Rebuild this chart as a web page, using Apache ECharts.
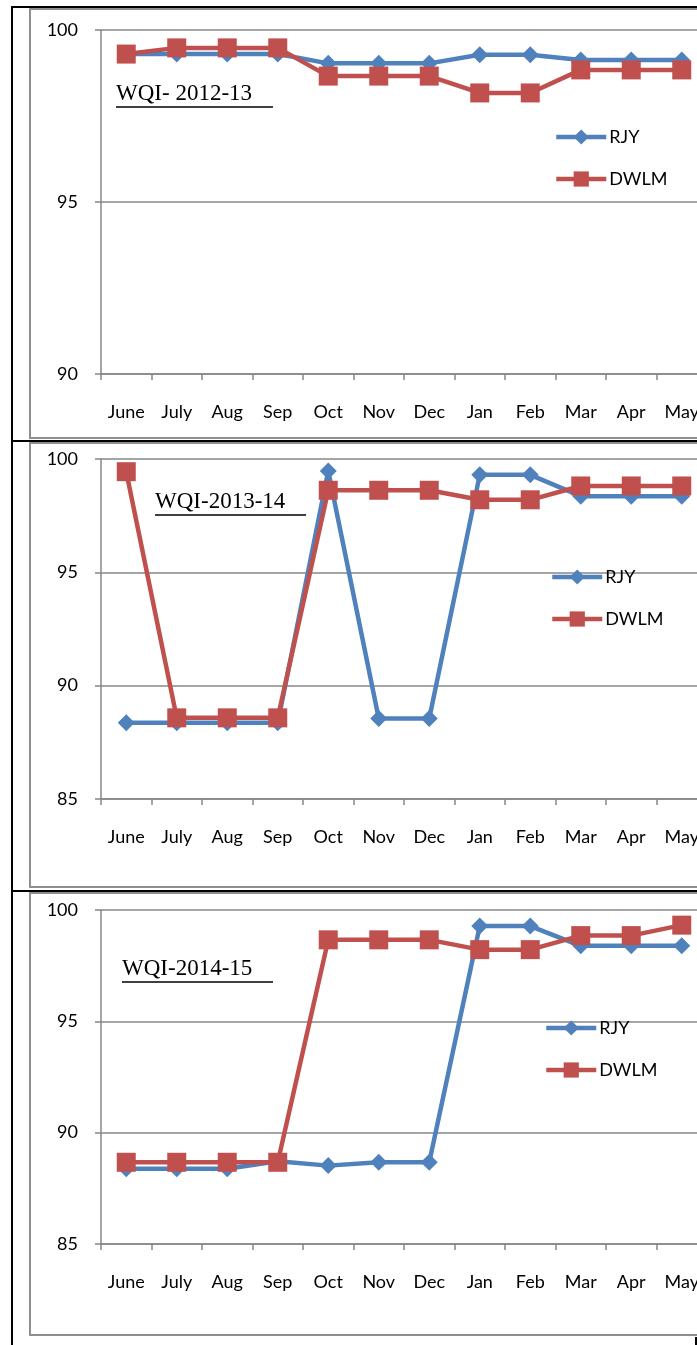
<!DOCTYPE html>
<html>
<head>
<meta charset="utf-8">
<script src="https://cdn.jsdelivr.net/npm/echarts@6/dist/echarts.min.js"></script>
<style>
  html, body { margin: 0; padding: 0; background: #fff; overflow: hidden; }
  /* wider than the window: the plot runs past the right edge like the cropped original */
  #chart { width: 720px; height: 1345px; }
</style>
</head>
<body>
<div id="chart"></div>
<script>
var months = ['June', 'July', 'Aug', 'Sep', 'Oct', 'Nov', 'Dec', 'Jan', 'Feb', 'Mar', 'Apr', 'May'];

// WQI 2012-13
var rjy1213 = [99.3, 99.3, 99.3, 99.3, 99.03, 99.03, 99.03, 99.28, 99.28, 99.13, 99.13, 99.13];
var dwlm1213 = [99.3, 99.48, 99.48, 99.48, 98.66, 98.66, 98.66, 98.17, 98.17, 98.84, 98.84, 98.84];
// WQI 2013-14
var rjy1314 = [88.36, 88.36, 88.36, 88.36, 99.47, 88.55, 88.55, 99.3, 99.3, 98.36, 98.36, 98.36];
var dwlm1314 = [99.44, 88.58, 88.58, 88.58, 98.62, 98.62, 98.62, 98.2, 98.2, 98.81, 98.81, 98.81];
// WQI 2014-15
var rjy1415 = [88.38, 88.38, 88.38, 88.72, 88.52, 88.67, 88.67, 99.28, 99.28, 98.39, 98.39, 98.39];
var dwlm1415 = [88.67, 88.67, 88.67, 88.67, 98.66, 98.66, 98.66, 98.22, 98.22, 98.85, 98.85, 99.32];

var titles = ['WQI- 2012-13', 'WQI-2013-14', 'WQI-2014-15'];
var yMins = [90, 85, 85];

var blue = '#4F81BD', red = '#C0504D', grey = '#878787';
var font = 'Lato, "Open Sans", sans-serif';

var grids = [
  { left: 101, top: 30, width: 606, height: 344 },
  { left: 101, top: 459, width: 606, height: 340 },
  { left: 101, top: 910, width: 606, height: 334 }
];

var xAxes = grids.map(function (g, i) {
  return {
    type: 'category', gridIndex: i, data: months, boundaryGap: true,
    axisLine: { lineStyle: { color: grey, width: 1.5 } },
    axisTick: { show: true, length: 6, lineStyle: { color: grey, width: 1.5 } },
    axisLabel: { color: '#000', fontSize: 18, fontFamily: font, margin: 29, interval: 0 },
    splitLine: { show: false }
  };
});

var yAxes = grids.map(function (g, i) {
  return {
    type: 'value', gridIndex: i, min: yMins[i], max: 100, interval: 5,
    axisLine: { show: true, lineStyle: { color: grey, width: 1.5 } },
    axisTick: { show: true, length: 6, lineStyle: { color: grey, width: 1.5 } },
    axisLabel: { color: '#000', fontSize: 18, fontFamily: font, margin: 23 },
    splitLine: { show: true, lineStyle: { color: grey, width: 1.5 } }
  };
});

function rjySeries(data, i) {
  return {
    name: 'RJY', type: 'line', xAxisIndex: i, yAxisIndex: i, data: data,
    symbol: 'diamond', symbolSize: [17, 17], color: blue,
    lineStyle: { width: 4.5, color: blue }, itemStyle: { color: blue },
    z: 2, animation: false
  };
}
function dwlmSeries(data, i) {
  return {
    name: 'DWLM', type: 'line', xAxisIndex: i, yAxisIndex: i, data: data,
    symbol: 'rect', symbolSize: [19, 19], color: red,
    lineStyle: { width: 4.5, color: red }, itemStyle: { color: red },
    z: 3, animation: false
  };
}

var series = [
  rjySeries(rjy1213, 0), dwlmSeries(dwlm1213, 0),
  rjySeries(rjy1314, 1), dwlmSeries(dwlm1314, 1),
  rjySeries(rjy1415, 2), dwlmSeries(dwlm1415, 2)
];

var legendPos = [
  { left: 549, top: 123 },
  { left: 545, top: 563 },
  { left: 539, top: 1014 }
];
var legends = legendPos.map(function (p) {
  return {
    orient: 'vertical', left: p.left, top: p.top,
    data: [
      { name: 'RJY', lineStyle: { width: 4.5 } },
      { name: 'DWLM', lineStyle: { width: 4.5 } }
    ],
    itemWidth: 50, itemHeight: 19, itemGap: 24, selectedMode: false,
    lineStyle: { width: 4.5 },
    textStyle: { fontSize: 18, fontFamily: font, color: '#000', padding: [0, 0, 0, -2] }
  };
});

var titlePos = [
  { left: 116, top: 82, width: 157 },
  { left: 155, top: 490, width: 151 },
  { left: 122, top: 957, width: 151 }
];
var titleOpts = titlePos.map(function (p, i) {
  return {
    text: titles[i], left: p.left, top: p.top, padding: 0,
    textStyle: { fontFamily: '"Liberation Serif", "DejaVu Serif", serif', fontSize: 23, fontWeight: 'normal', color: '#000' }
  };
});

var frameStyle = { fill: 'none', stroke: '#8f8f8f', lineWidth: 2 };
var black = { stroke: '#000', lineWidth: 2 };
var graphics = [
  // page table lines
  { type: 'line', shape: { x1: 12, y1: 7, x2: 720, y2: 7 }, style: black },
  { type: 'line', shape: { x1: 12, y1: 6, x2: 12, y2: 1345 }, style: black },
  { type: 'line', shape: { x1: 12, y1: 441, x2: 720, y2: 441 }, style: black },
  { type: 'line', shape: { x1: 12, y1: 891, x2: 720, y2: 891 }, style: black },
  { type: 'line', shape: { x1: 696, y1: 1337, x2: 696, y2: 1345 }, style: black },
  // chart area frames
  { type: 'rect', shape: { x: 30, y: 9, width: 700, height: 429 }, style: frameStyle },
  { type: 'rect', shape: { x: 30, y: 443, width: 700, height: 444 }, style: frameStyle },
  { type: 'rect', shape: { x: 30, y: 893, width: 700, height: 442 }, style: frameStyle }
];
// title underlines
titlePos.forEach(function (p) {
  graphics.push({ type: 'line', z: 10, shape: { x1: p.left, y1: p.top + 25, x2: p.left + p.width, y2: p.top + 25 }, style: { stroke: '#000', lineWidth: 1.5 } });
});

var chart = echarts.init(document.getElementById('chart'), null, { renderer: 'canvas' });
chart.setOption({
  backgroundColor: '#fff',
  animation: false,
  title: titleOpts,
  legend: legends,
  grid: grids,
  xAxis: xAxes,
  yAxis: yAxes,
  series: series,
  graphic: graphics
});
</script>
</body>
</html>
